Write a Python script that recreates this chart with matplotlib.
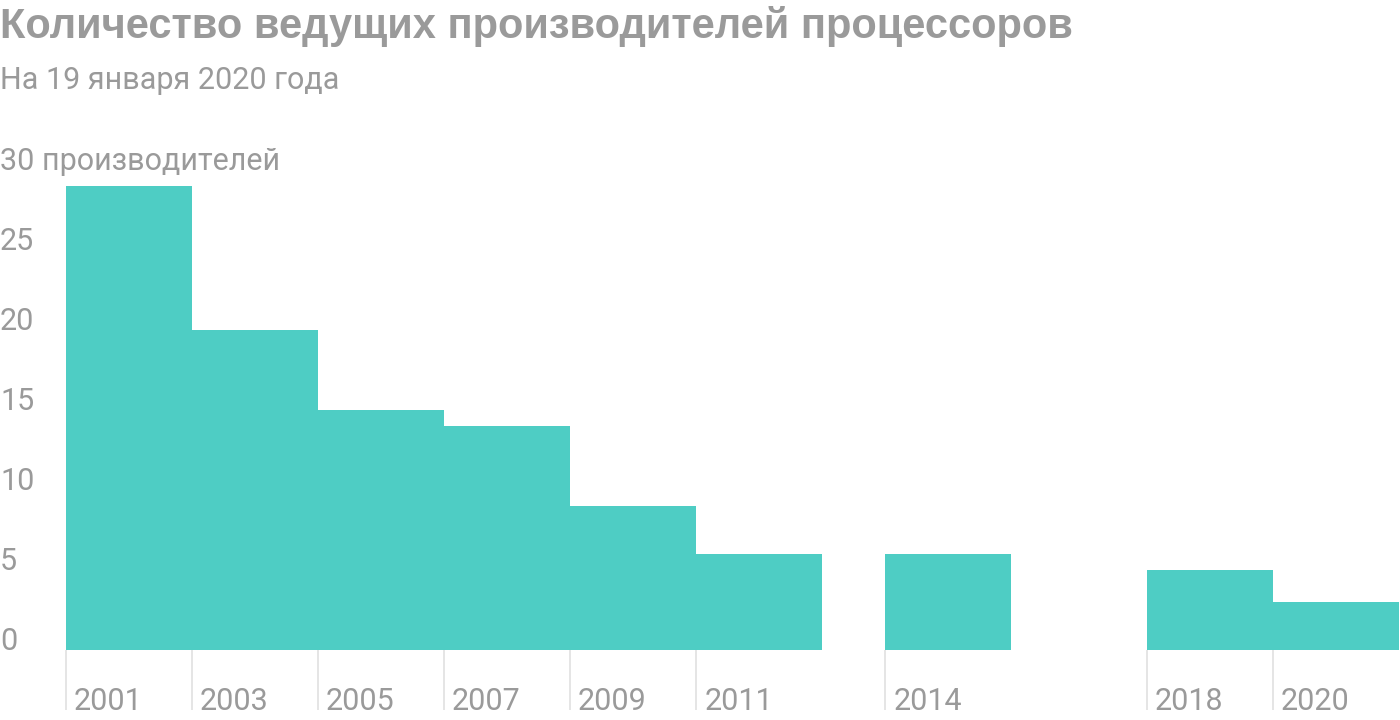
import matplotlib.pyplot as plt
from matplotlib.transforms import ScaledTranslation

# данные (начало периода в годах; последние два периода сдвинуты на ~2 месяца)
starts = [2001, 2003, 2005, 2007, 2009, 2011, 2014, 2018.15, 2020.15]
year_labels = ["2001", "2003", "2005", "2007", "2009", "2011", "2014", "2018", "2020"]
makers = [29, 20, 15, 14, 9, 6, 6, 5, 3]
ytick_vals = [0, 5, 10, 15, 20, 25, 30]
ytick_labels = ["0", "5", "10", "15", "20", "25", "30 производителей"]

title = "Количество ведущих производителей процессоров"
subtitle = "На 19 января 2020 года"

bar_color = "#4ecdc4"
text_color = "#9a9a9a"
grid_color = "#e3e3e3"

plt.rcParams["font.family"] = ["Roboto", "DejaVu Sans"]

fig = plt.figure(figsize=(14, 7.2), dpi=100)
ax = fig.add_axes([66 / 1400, 70 / 720, 1 - 66 / 1400, 480 / 720])

ax.bar(starts, makers, width=2, align="edge", color=bar_color, linewidth=0)
ax.set_xlim(2001, 2022.17)
ax.set_ylim(0, 30)

for s in ax.spines.values():
    s.set_visible(False)

# ось Y: подписи слева, над уровнем
ax.set_yticks(ytick_vals, ytick_labels)
ax.tick_params(axis="y", length=0, pad=66 * 0.72, labelsize=22, labelcolor=text_color)
for lbl in ax.get_yticklabels():
    lbl.set_ha("left")
    lbl.set_va("baseline")

# ось X: длинные засечки, подписи справа от них
ax.set_xticks(starts, year_labels)
ax.tick_params(axis="x", direction="out", length=60 * 0.72, width=1.3, color=grid_color,
               pad=-23 * 0.72, labelsize=22, labelcolor=text_color)
off = ScaledTranslation(8 / 100, 0, fig.dpi_scale_trans)
for lbl in ax.get_xticklabels():
    lbl.set_ha("left")
    lbl.set_transform(lbl.get_transform() + off)

fig.text(0.0, 1 - 38 / 720, title, fontsize=30, fontweight="bold", color=text_color,
         family=["Liberation Sans", "DejaVu Sans"], ha="left", va="baseline")
fig.text(0.0, 1 - 89 / 720, subtitle, fontsize=22, color=text_color, ha="left", va="baseline")

fig.savefig("out.png", dpi=100)
